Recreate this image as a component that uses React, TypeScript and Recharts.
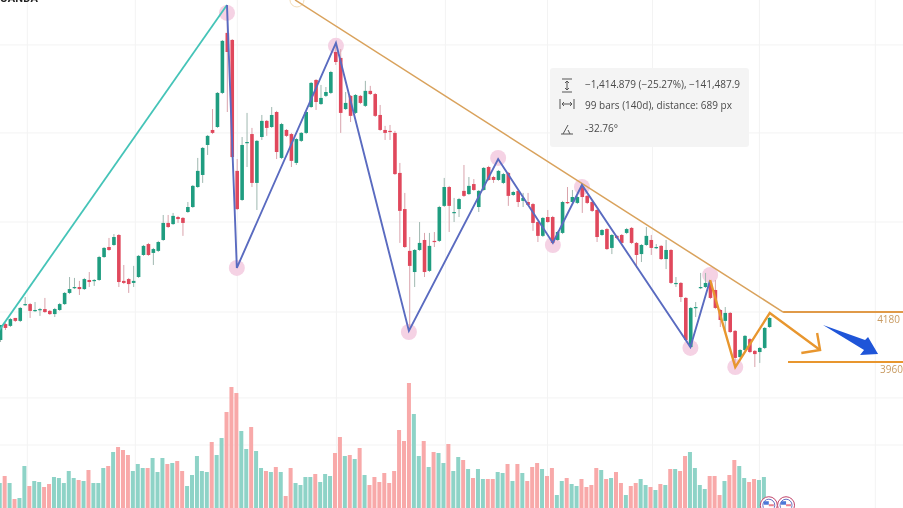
import React from "react";
import {
  ComposedChart,
  Bar,
  Line,
  XAxis,
  YAxis,
  CartesianGrid,
  ReferenceDot,
} from "recharts";

const W = 903;
const H = 508;

const opens = [
  4057,4127,4119,4154,4141,4211,4215,4185,4189,4193,
  4185,4171,4189,4215,4264,4286,4290,4281,4321,4317,
  4321,4422,4466,4475,4519,4317,4325,4308,4334,4431,
  4479,4440,4449,4497,4572,4567,4598,4594,4620,4642,
  4730,4783,4915,4981,4994,5144,5408,5377,4801,4673,
  4924,4963,4748,4950,5021,4994,5060,4858,4981,4963,
  4836,4933,4968,5082,5201,5095,5131,5144,5324,5298,
  5073,5131,5056,5131,5087,5153,5139,5047,4981,4977,
  4968,4792,4633,4449,4356,4453,4497,4361,4493,4493,
  4647,4730,4616,4633,4713,4699,4743,4642,4717,4818,
  4774,4761,4748,4792,4695,4713,4669,4664,4655,4576,
  4515,4598,4598,4497,4528,4664,4664,4660,4735,4691,
  4664,4629,4519,4545,4462,4515,4519,4528,4550,4484,
  4435,4475,4497,4462,4471,4413,4453,4303,4308,4242,
  4026,4198,4286,4290,4308,4277,4189,4141,4176,4097,
  3982,4013,4061,4009,4004,4022,4114,
];
const highs = [
  4123,4132,4154,4154,4202,4246,4220,4224,4198,4242,
  4189,4198,4220,4268,4334,4330,4317,4330,4356,4325,
  4427,4466,4506,4523,4523,4387,4330,4383,4431,4475,
  4484,4462,4493,4607,4607,4616,4603,4598,4664,4739,
  4858,4906,4959,5073,5148,5377,5531,5381,4853,4950,
  5056,4990,4937,5047,5025,5082,5065,5012,4985,4968,
  4946,4972,5065,5192,5205,5179,5170,5241,5364,5337,
  5148,5135,5139,5135,5197,5175,5144,5091,4999,5003,
  4977,4836,4704,4510,4457,4576,4528,4528,4532,4647,
  4770,4735,4682,4682,4827,4774,4765,4717,4818,4823,
  4779,4805,4792,4796,4713,4717,4704,4704,4660,4581,
  4598,4629,4603,4537,4669,4730,4717,4691,4739,4695,
  4669,4633,4545,4550,4523,4519,4523,4550,4554,4488,
  4479,4554,4519,4479,4475,4497,4457,4334,4312,4246,
  4202,4224,4352,4352,4312,4321,4193,4202,4180,4101,
  4017,4079,4066,4013,4026,4114,4158,
];
const lows = [
  4048,4101,4114,4136,4136,4207,4154,4180,4163,4176,
  4167,4158,4185,4211,4259,4281,4255,4277,4290,4295,
  4317,4418,4449,4471,4290,4303,4264,4290,4330,4427,
  4427,4387,4444,4493,4550,4563,4572,4515,4616,4638,
  4726,4748,4871,4963,4990,5139,5060,4858,4629,4669,
  4818,4730,4629,4937,4955,4990,4853,4853,4950,4818,
  4827,4928,4963,5078,5069,5091,5126,5139,5267,4968,
  5069,5016,5051,5095,5082,5135,5038,4977,4937,4937,
  4783,4484,4462,4101,4290,4449,4334,4356,4466,4488,
  4642,4532,4576,4598,4686,4695,4713,4620,4713,4757,
  4748,4757,4743,4647,4691,4642,4642,4647,4537,4488,
  4510,4572,4479,4493,4523,4655,4660,4655,4616,4655,
  4620,4488,4515,4453,4435,4501,4479,4523,4479,4374,
  4400,4471,4431,4457,4409,4369,4303,4290,4224,4053,
  4022,4158,4281,4286,4237,4193,4114,4101,4088,3947,
  3978,4009,3999,3938,3956,4017,4110,
];
const closes = [
  4123,4110,4149,4141,4198,4215,4185,4189,4193,4180,
  4171,4193,4215,4264,4281,4290,4281,4325,4312,4321,
  4422,4462,4453,4510,4312,4308,4303,4317,4427,4471,
  4431,4457,4488,4572,4554,4603,4589,4572,4642,4735,
  4801,4902,4955,4968,5144,5373,5324,4862,4633,4915,
  4928,4748,4933,5021,4990,5047,4884,5007,4955,4845,
  4941,4968,5060,5188,5104,5122,5148,5236,5280,5056,
  5100,5043,5135,5100,5153,5139,5043,4981,4968,4972,
  4787,4625,4466,4383,4453,4484,4356,4471,4488,4642,
  4730,4647,4620,4677,4691,4735,4717,4713,4814,4761,
  4761,4801,4787,4691,4708,4664,4682,4651,4572,4515,
  4594,4576,4484,4532,4664,4660,4686,4686,4686,4660,
  4625,4510,4541,4457,4519,4506,4484,4545,4484,4431,
  4475,4515,4462,4466,4413,4453,4308,4308,4246,4057,
  4198,4202,4290,4308,4242,4198,4145,4176,4092,3978,
  4013,4075,4004,3995,4022,4110,4154,
];
const volumes = [
  25,32,25,9,10,42,22,27,26,21,
  24,31,30,25,37,30,28,27,38,25,
  25,40,42,56,61,58,53,37,44,40,
  40,50,36,50,44,45,47,37,22,33,
  52,37,36,66,53,70,96,121,115,77,
  59,81,57,40,37,36,41,36,12,40,
  25,23,31,31,34,26,34,32,55,71,
  52,53,49,60,33,23,31,26,35,25,
  37,78,67,125,94,52,67,41,56,55,
  45,64,37,51,48,39,30,39,29,29,
  29,36,35,44,27,44,35,27,41,45,
  39,32,40,13,27,30,24,22,29,21,
  23,40,38,29,30,36,25,13,22,25,
  29,23,21,18,24,23,39,39,37,52,
  56,40,23,19,32,32,13,27,33,48,
  42,30,26,29,28,31,0,
];

// Drawn studies, as [bar index, price]
const rallyLine = [[-0.2, 4100], [46, 5531]];
const zigzag = [[46, 5531], [48, 4374], [68.1, 5364], [82.9, 4097], [101, 4853], [112.1, 4484], [118, 4739], [140, 4026], [144, 4321]];
const forecast = [[144, 4321], [149.1, 3938], [156.1, 4176], [166.3, 4013]];
const forecastHead = [[162.5, 4000], [166.3, 4013], [165.7, 4088]];
const trendLine = [[59.8, 5553], [158.8, 4180]];
const upperLevel = [[158.8, 4180], [183.5, 4180]];
const lowerLevel = [[159.8, 3960], [183.5, 3960]];
const pivots = [[46, 5496], [48, 4374], [68.1, 5351], [82.9, 4092], [101, 4858], [112.1, 4475], [118, 4730], [140, 4022], [144, 4343], [149.1, 3938]];
const gridBars = [5.5, 27.4, 48.1, 68.2, 90.3, 111, 132.3, 154, 177.5];
const gridPrices = [5355, 4968, 4576, 4180, 3802, 3595];

const levelLabels = [
  { bar: 180.2, price: 4145, text: "4180" },
  { bar: 180.8, price: 3925, text: "3960" },
];

const infoRows = [
  "\u22121,414.879 (\u221225.27%), \u2212141,487.9",
  "99 bars (140d), distance: 689 px",
  "-32.76\u00b0",
];

const rows = opens.map((open, i) => ({
  i,
  open,
  high: highs[i],
  low: lows[i],
  close: closes[i],
  volume: volumes[i],
  range: [lows[i], highs[i]],
}));

const toPoints = (pts: number[][]) => pts.map(([i, price]) => ({ i, price }));

const UP = "#1f9d80";
const DOWN = "#e0485c";
const VOL_UP = "#8ed3c7";
const VOL_DOWN = "#f8a9a9";

function Candle(props: any) {
  const { x, y, width, height, payload } = props;
  if (payload == null || height == null) return null;
  const span = payload.high - payload.low || 1;
  const unit = height / span;
  const yOpen = y + (payload.high - payload.open) * unit;
  const yClose = y + (payload.high - payload.close) * unit;
  const top = Math.min(yOpen, yClose);
  const bh = Math.max(Math.abs(yOpen - yClose), 1.2);
  const up = payload.close >= payload.open;
  const c = up ? UP : DOWN;
  const cx = x + width / 2;
  return (
    <g>
      <line x1={cx} x2={cx} y1={y} y2={y + height} stroke={up ? "#9fb8b0" : "#d9a3ac"} strokeWidth={1} />
      <rect x={x} y={top} width={width} height={bh} fill={c} />
    </g>
  );
}

function VolumeBar(props: any) {
  const { x, y, width, height, payload } = props;
  if (!height || height <= 0) return null;
  return <rect x={x} y={y} width={width} height={height} fill={payload.close >= payload.open ? VOL_UP : VOL_DOWN} />;
}

function BlueArrow(props: any) {
  const { cx, cy } = props;
  const pts = [[0, 0], [42, 15], [45, 12], [55, 29], [37, 30], [41, 25]]
    .map(([a, b]) => `${cx + a},${cy + b}`)
    .join(" ");
  return <polygon points={pts} fill="#1f55d8" />;
}

function CalendarFlag(props: any) {
  const { cx, cy } = props;
  return (
    <g>
      <circle cx={cx} cy={cy} r={8.5} fill="#fff" stroke="#c2456b" strokeWidth={1} />
      <circle cx={cx} cy={cy} r={6} fill="#fff" stroke="#6a73c4" strokeWidth={1} />
      <rect x={cx - 5} y={cy - 4} width={5} height={3.5} fill="#4a78d8" />
      <rect x={cx} y={cy - 1} width={5} height={2} fill="#e8828f" />
    </g>
  );
}

const LevelLabel = (text: string) => (props: any) => (
  <text x={props.cx} y={props.cy} textAnchor="middle" dominantBaseline="middle" fontSize={10} fontFamily="Open Sans, sans-serif" fill="#c89b62">
    {text}
  </text>
);

const layer: React.CSSProperties = { position: "absolute", left: 0, top: 0 };
const X_DOMAIN = [-0.04, 183.12];
const PRICE_DOMAIN = [3317.8, 5552.8];

export default function App() {
  const line = (pts: number[][], color: string, w: number, key: string) => (
    <Line
      key={key}
      data={toPoints(pts)}
      dataKey="price"
      stroke={color}
      strokeWidth={w}
      dot={false}
      activeDot={false}
      isAnimationActive={false}
      legendType="none"
      strokeLinejoin="miter"
    />
  );
  return (
    <div style={{ position: "absolute", left: 0, top: 0, width: W, height: H, overflow: "hidden", background: "#fff", filter: "blur(0.45px)" }}>
      <div style={layer}>
        <ComposedChart width={W} height={H} data={rows} margin={{ top: 0, right: 0, bottom: 0, left: 0 }}>
          <XAxis dataKey="i" type="number" domain={X_DOMAIN} allowDataOverflow hide />
          <YAxis type="number" domain={PRICE_DOMAIN} allowDataOverflow hide />
          <YAxis yAxisId="vol" type="number" domain={[0, 508]} allowDataOverflow hide />
          <CartesianGrid stroke="#f3f3f3" verticalValues={gridBars} horizontalValues={gridPrices} />
          {toPoints(pivots).map((p, k) => (
            <ReferenceDot key={k} x={p.i} y={p.price} r={8} fill="#f5d2e4" stroke="none" ifOverflow="visible" />
          ))}
          <ReferenceDot x={60.2} y={5553} r={7} fill="none" stroke="#f2dcb8" ifOverflow="visible" />
          <Bar yAxisId="vol" dataKey="volume" barSize={4} shape={<VolumeBar />} isAnimationActive={false} />
        </ComposedChart>
      </div>
      <div style={layer}>
        <ComposedChart width={W} height={H} data={rows} margin={{ top: 0, right: 0, bottom: 0, left: 0 }}>
          <XAxis dataKey="i" type="number" domain={X_DOMAIN} allowDataOverflow hide />
          <YAxis type="number" domain={PRICE_DOMAIN} allowDataOverflow hide />
          <Bar dataKey="range" barSize={3.6} shape={<Candle />} isAnimationActive={false} />
        </ComposedChart>
      </div>
      <div style={layer}>
        <ComposedChart width={W} height={H} margin={{ top: 0, right: 0, bottom: 0, left: 0 }}>
          <XAxis dataKey="i" type="number" domain={X_DOMAIN} allowDataOverflow hide />
          <YAxis type="number" domain={PRICE_DOMAIN} allowDataOverflow hide />
          {line(rallyLine, "#45c4b8", 1.8, "rally")}
          {line(trendLine, "#d9a25c", 1.5, "trend")}
          {line(zigzag, "#5a6bc0", 1.9, "zig")}
          {line(forecast, "#e8962e", 2.4, "fc")}
          {line(forecastHead, "#e8962e", 2.4, "fch")}
          {line(upperLevel, "#e09a48", 2, "up")}
          {line(lowerLevel, "#e8962e", 2, "lo")}
          {levelLabels.map((l) => (
            <ReferenceDot key={l.text} x={l.bar} y={l.price} ifOverflow="visible" shape={LevelLabel(l.text)} />
          ))}
          <ReferenceDot x={166.9} y={4123} ifOverflow="visible" shape={<BlueArrow />} />
          <ReferenceDot x={155.9} y={3330} ifOverflow="visible" shape={<CalendarFlag />} />
          <ReferenceDot x={159.4} y={3330} ifOverflow="visible" shape={<CalendarFlag />} />
        </ComposedChart>
      </div>
      <div style={{ position: "absolute", left: 0, top: -8, fontFamily: "Roboto, sans-serif", fontWeight: 700, fontSize: 11, color: "#222", letterSpacing: 0.2 }}>OANDA</div>
      <div style={{ position: "absolute", left: 550, top: 68, width: 199, height: 79, background: "#f4f4f4", borderRadius: 3, fontFamily: "Open Sans, sans-serif", fontSize: 10, color: "#4a4a4a" }}>
        {infoRows.map((t, k) => (
          <div key={k} style={{ position: "absolute", left: 35, top: [9, 30, 53][k], whiteSpace: "nowrap" }}>{t}</div>
        ))}
        <svg width="30" height="79" style={{ position: "absolute", left: 8, top: 0 }} fill="none" stroke="#555" strokeWidth="1">
          <path d="M4 11h10M4 24h10M9 13v9M7 15l2-2 2 2M7 20l2 2 2-2" />
          <path d="M2 31v10M16 31v10M4 36h10M6 34l-2 2 2 2M12 34l2 2-2 2" />
          <path d="M3 66h12M5 66l5-9M10 62l2 4" />
        </svg>
      </div>
    </div>
  );
}
